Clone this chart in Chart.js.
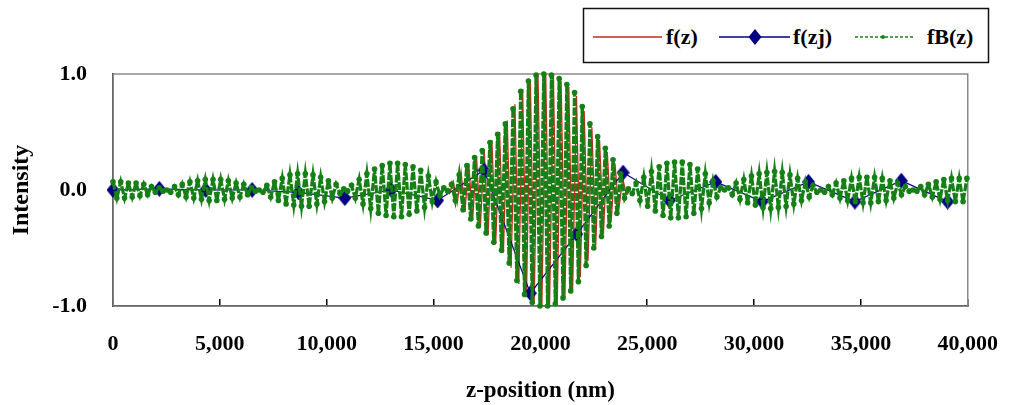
<!DOCTYPE html>
<html>
<head>
<meta charset="utf-8">
<script src="https://cdn.jsdelivr.net/npm/chart.js@4.4.1/dist/chart.umd.min.js"></script>
<style>
  html, body { margin: 0; padding: 0; background: #fff; }
  #wrap { position: relative; width: 1030px; height: 405px; }
  #chart { position: absolute; left: 0; top: 0; }
  #legend { position: absolute; left: 0; top: 0; pointer-events: none; }
  #legend text { font-family: "Liberation Serif", "Times New Roman", serif; font-weight: bold; font-size: 22px; fill: #000; }
</style>
</head>
<body>
<div id="wrap">
  <canvas id="chart" width="1030" height="405"></canvas>
  <svg id="legend" width="1030" height="70">
    <rect x="583.5" y="8.5" width="405" height="54" fill="#fff" stroke="#111" stroke-width="1.5"/>
    <line x1="593" y1="37" x2="662" y2="37" stroke="#c8281e" stroke-width="1.5"/>
    <text x="666" y="44">f(z)</text>
    <line x1="719" y1="37" x2="790" y2="37" stroke="#000080" stroke-width="1.5"/>
    <polygon points="755,29 761.5,37 755,45 748.5,37" fill="#000080"/>
    <text x="793" y="44">f(zj)</text>
    <line x1="855" y1="37" x2="915" y2="37" stroke="#168016" stroke-width="1.5" stroke-dasharray="3,2"/>
    <circle cx="883" cy="37" r="2" fill="#168016"/>
    <text x="927" y="44">fB(z)</text>
  </svg>
</div>
<script>
// z grid: one value per half fringe (nm)
const zStep = 180;

// fB(z): reconstructed signal, one extreme per half fringe starting at z = 0
const fbStart = 0;
const fbVals = [
  0.07, -0.07, 0.07, -0.07, 0.06, -0.06, 0.06, -0.05, 0.05, -0.04, 0.03, -0.02, 0.02, -0.01,
  0.00, -0.02, 0.03, -0.04, 0.05, -0.06, 0.07, -0.07, 0.08, -0.08, 0.09, -0.09, 0.09, -0.09,
  0.09, -0.08, 0.08, -0.07, 0.06, -0.06, 0.05, -0.04, 0.02, -0.01, 0.00,
  -0.02, 0.04, -0.06, 0.07, -0.09, 0.10, -0.12, 0.13, -0.13, 0.14, -0.14, 0.14, -0.14, 0.13,
  -0.12, 0.11, -0.10, 0.08, -0.07, 0.05, -0.03, 0.01,
  -0.01, 0.04, -0.07, 0.09, -0.12, 0.14, -0.16, 0.18, -0.20, 0.21, -0.22, 0.23, -0.23, 0.23,
  -0.23, 0.22, -0.21, 0.20, -0.18, 0.17, -0.15, 0.12, -0.10, 0.07, -0.05, 0.02,
  -0.01, 0.05, -0.09, 0.13, -0.17, 0.21, -0.25, 0.28, -0.31, 0.34, -0.37, 0.41, -0.45, 0.48,
  -0.52, 0.57, -0.63, 0.70, -0.78, 0.85, -0.90, 0.94, -0.97, 0.99, -1.00, 1.00, -1.00, 0.99,
  -0.98, 0.96, -0.93, 0.91, -0.87, 0.84, -0.79, 0.72, -0.65, 0.57, -0.50, 0.46, -0.40, 0.36,
  -0.31, 0.26, -0.20, 0.14, -0.07, 0.01,
  -0.03, 0.06, -0.09, 0.11, -0.14, 0.16, -0.18, 0.20, -0.22, 0.23, -0.24, 0.24, -0.24, 0.24,
  -0.23, 0.22, -0.20, 0.18, -0.16, 0.14, -0.11, 0.08, -0.06, 0.02,
  0.00, 0.02, -0.04, 0.06, -0.08, 0.09, -0.11, 0.12, -0.13, 0.14, -0.15, 0.15, -0.16, 0.16,
  -0.15, 0.15, -0.14, 0.13, -0.12, 0.10, -0.09, 0.07, -0.06, 0.04, -0.02,
  0.00, -0.02, 0.03, -0.04, 0.06, -0.07, 0.08, -0.09, 0.10, -0.10, 0.11, -0.11, 0.11, -0.11,
  0.11, -0.10, 0.10, -0.09, 0.08, -0.07, 0.06, -0.04, 0.03, -0.01,
  0.00, -0.01, 0.03, -0.04, 0.05, -0.06, 0.07, -0.08, 0.09, -0.09, 0.10, -0.10, 0.10, -0.10,
  0.10
];

// f(z): true fringe signal, only non-zero inside the coherence envelope
const fzStart = 15570;
const fzVals = [
  0.01, -0.03, 0.07, -0.11, 0.15, -0.19, 0.23, -0.26, 0.29, -0.32, 0.35, -0.39, 0.43, -0.46,
  0.50, -0.54, 0.60, -0.67, 0.74, -0.81, 0.87, -0.92, 0.95, -0.98, 0.99, -1.00, 1.00, -0.99,
  0.98, -0.97, 0.94, -0.92, 0.89, -0.86, 0.81, -0.75, 0.68, -0.61, 0.54, -0.48, 0.43, -0.38,
  0.33, -0.28, 0.23, -0.17, 0.10, -0.04, 0.00
];

// f(zj): sampled points
const zjPos = [0, 2170, 4340, 6510, 8680, 10850, 13020, 15190, 17360, 19530,
               21700, 23870, 26040, 28210, 30380, 32550, 34720, 36890, 39060];
const zjVals = [0.00, 0.01, 0.00, 0.00, -0.02, -0.07, 0.00, -0.09, 0.17, -0.89,
                -0.38, 0.15, -0.09, 0.07, -0.10, 0.07, -0.10, 0.08, -0.10];

const seriesNames = ['f(z)', 'f(zj)', 'fB(z)'];
const xTickStep = 5000;
const yTickStep = 1;

const fbPoints = fbVals.map((v, i) => ({ x: fbStart + i * zStep, y: v }));
const fzPoints = fzVals.map((v, i) => ({ x: fzStart + i * zStep, y: v }));
const zjPoints = zjPos.map((z, i) => ({ x: z, y: zjVals[i] }));

// taller-than-wide diamond marker
function diamond(w, h, color) {
    const c = document.createElement('canvas');
    c.width = w;
    c.height = h;
    const g = c.getContext('2d');
    g.fillStyle = color;
    g.beginPath();
    g.moveTo(w / 2, 0);
    g.lineTo(w, h / 2);
    g.lineTo(w / 2, h);
    g.lineTo(0, h / 2);
    g.closePath();
    g.fill();
    return c;
}

const serif = '"Liberation Serif", "Times New Roman", serif';

// grey frame round the plot area
const frame = {
    id: 'frame',
    beforeDatasetsDraw(chart) {
        const a = chart.chartArea;
        const ctx = chart.ctx;
        ctx.save();
        ctx.strokeStyle = '#8a8a8a';
        ctx.lineWidth = 1.5;
        ctx.strokeRect(a.left, a.top, a.right - a.left, a.bottom - a.top);
        ctx.restore();
    }
};

new Chart(document.getElementById('chart'), {
    type: 'line',
    data: {
        datasets: [{
            label: seriesNames[0],
            data: fzPoints,
            borderColor: '#c8281e',
            borderWidth: 1.3,
            pointRadius: 0,
            order: 3
        }, {
            label: seriesNames[1],
            data: zjPoints,
            borderColor: '#000080',
            borderWidth: 1.2,
            pointStyle: diamond(13, 16, '#000080'),
            pointRadius: 7,
            clip: false,
            order: 2
        }, {
            label: seriesNames[2],
            data: fbPoints,
            borderColor: '#168016',
            borderWidth: 3.3,
            borderDash: [8, 1.5],
            pointStyle: 'circle',
            pointRadius: 2.8,
            pointBorderWidth: 0,
            pointBackgroundColor: '#168016',
            clip: false,
            order: 1
        }]
    },
    options: {
        responsive: false,
        animation: false,
        layout: { padding: { top: 74, right: 41, bottom: 0, left: 0 } },
        plugins: {
            legend: { display: false },
            tooltip: { enabled: false }
        },
        elements: { line: { tension: 0 } },
        scales: {
            x: {
                type: 'linear',
                min: 0,
                max: 40000,
                afterFit: (scale) => { scale.height = 99; },
                ticks: {
                    stepSize: xTickStep,
                    padding: 32,
                    color: '#000',
                    font: { family: serif, size: 22, weight: 'bold' },
                    callback: (v) => v.toLocaleString('en-US')
                },
                grid: { drawOnChartArea: false, tickLength: -7, color: '#000', lineWidth: 1.5 },
                border: { color: '#000', width: 1.5 },
                title: {
                    display: true,
                    text: 'z-position (nm)',
                    color: '#000',
                    font: { family: serif, size: 23, weight: 'bold' },
                    padding: { top: 0, bottom: 0 }
                }
            },
            y: {
                min: -1,
                max: 1,
                afterFit: (scale) => { scale.width = 113; },
                ticks: {
                    stepSize: yTickStep,
                    padding: 26,
                    color: '#000',
                    font: { family: serif, size: 22, weight: 'bold' },
                    callback: (v) => v.toFixed(1)
                },
                grid: { drawOnChartArea: false, drawTicks: false },
                border: { color: '#000', width: 1.5 },
                title: {
                    display: true,
                    text: 'Intensity',
                    color: '#000',
                    font: { family: serif, size: 24, weight: 'bold' },
                    padding: { top: 7, bottom: 0 }
                }
            }
        }
    },
    plugins: [frame]
});
</script>
</body>
</html>
